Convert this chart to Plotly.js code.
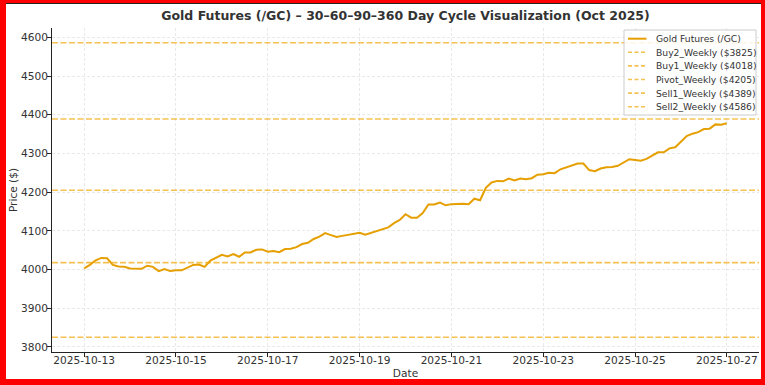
<!DOCTYPE html>
<html>
<head>
<meta charset="utf-8">
<script src="https://cdn.plot.ly/plotly-3.0.1.min.js"></script>
<style>
  html, body { margin: 0; padding: 0; background: #fff; }
  #wrap { position: relative; width: 765px; height: 385px; overflow: hidden; }
  #chart { position: absolute; left: 0; top: 0; width: 765px; height: 385px; }
  #frame { position: absolute; left: 0; top: 0; width: 765px; height: 385px; box-sizing: border-box;
           border-style: solid; border-color: #ff0000; border-width: 3px 4px 6px 6px; pointer-events: none; }
  #frameInner { position: absolute; left: 6px; top: 3px; width: 755px; height: 1px; background: #222; pointer-events: none; }
</style>
</head>
<body>
<div id="wrap">
  <div id="chart"></div>
  <div id="frame"></div>
  <div id="frameInner"></div>
</div>
<script>
// ---- Data ----
const startDate = '2025-10-13T00:00:00';
const stepHours = 3;

const goldPrices = [
  4003, 4012, 4024, 4030, 4029, 4012, 4008, 4007, 4003, 4003,
  4002, 4010, 4007, 3996, 4001, 3996, 3998, 3998, 4006, 4012,
  4013, 4007, 4023, 4031, 4038, 4034, 4040, 4033, 4044, 4044,
  4051, 4052, 4046, 4048, 4045, 4053, 4054, 4058, 4066, 4069,
  4079, 4085, 4094, 4089, 4084, 4087, 4090, 4092, 4095, 4090,
  4095, 4099, 4103, 4109, 4120, 4128, 4143, 4134, 4134, 4146,
  4168, 4168, 4173, 4166, 4169, 4170, 4170, 4169, 4183, 4179,
  4211, 4225, 4229, 4228, 4235, 4230, 4235, 4233, 4236, 4245,
  4246, 4250, 4249, 4259, 4264, 4268, 4274, 4274, 4257, 4254,
  4261, 4264, 4265, 4268, 4276, 4285, 4283, 4281, 4286, 4295,
  4303, 4303, 4313, 4316, 4331, 4345, 4351, 4355, 4363, 4364,
  4375, 4374, 4378
];

const levelNames  = ['Buy2_Weekly', 'Buy1_Weekly', 'Pivot_Weekly', 'Sell1_Weekly', 'Sell2_Weekly'];
const levelValues = [3825, 4018, 4205, 4389, 4586];

const seriesName = 'Gold Futures (/GC)';
const yTicks = [3800, 3900, 4000, 4100, 4200, 4300, 4400, 4500, 4600];
const xTickStart = '2025-10-13';

// ---- Build timestamps ----
function fmt(d) {
  const p = n => String(n).padStart(2, '0');
  return d.getFullYear() + '-' + p(d.getMonth() + 1) + '-' + p(d.getDate()) + ' ' + p(d.getHours()) + ':' + p(d.getMinutes());
}
const t0 = new Date(startDate);
const dates = goldPrices.map((_, i) => fmt(new Date(t0.getTime() + i * stepHours * 3600000)));

// ---- Style ----
const mainColor = '#E69F00';
const levelColor = 'rgba(240,165,0,0.68)';
const textColor = '#333333';
const font = 'DejaVu Sans, Verdana, sans-serif';
const xRange = ['2025-10-12 07:12', '2025-10-27 16:48'];

const traces = [];
traces.push({
  x: dates, y: goldPrices, type: 'scatter', mode: 'lines', name: seriesName,
  line: { color: mainColor, width: 2 }, showlegend: false, hoverinfo: 'skip'
});
levelNames.forEach((n, i) => {
  traces.push({
    x: xRange, y: [levelValues[i], levelValues[i]],
    type: 'scatter', mode: 'lines', name: n + ' ($' + levelValues[i] + ')',
    line: { color: levelColor, width: 1.6, dash: '6px,2.5px' }, showlegend: false, hoverinfo: 'skip'
  });
});

// ---- Manual legend (matplotlib-style compact legend) ----
const L = 52, R = 759, T = 28, B = 352;
const px = v => (v - L) / (R - L);
const py = v => (B - v) / (B - T);
const legendLabels = [seriesName].concat(levelNames.map((n, i) => n + ' ($' + levelValues[i] + ')'));
const rowY = [38.7, 52.3, 65.9, 79.5, 93.1, 106.7];
const shapes = [{
  type: 'rect', xref: 'paper', yref: 'paper', x0: px(624), x1: px(756), y0: py(115), y1: py(30),
  fillcolor: 'rgba(255,255,255,0.85)', line: { color: '#cccccc', width: 1 }, layer: 'above'
}];
const annotations = [];
legendLabels.forEach((lab, i) => {
  shapes.push({
    type: 'line', xref: 'paper', yref: 'paper', x0: px(628), x1: px(646.5), y0: py(rowY[i]), y1: py(rowY[i]),
    line: i === 0 ? { color: mainColor, width: 2 } : { color: levelColor, width: 1.6, dash: '4px,2.5px' },
    layer: 'above'
  });
  annotations.push({
    xref: 'paper', yref: 'paper', x: px(654), y: py(rowY[i]), xanchor: 'left', yanchor: 'middle',
    text: lab, showarrow: false, font: { family: font, size: 9.2, color: textColor }
  });
});

const layout = {
  width: 765, height: 385,
  margin: { l: L, r: 765 - R, t: T, b: 385 - B, pad: 0 },
  paper_bgcolor: '#ffffff', plot_bgcolor: '#ffffff',
  font: { family: font, size: 10.6, color: textColor },
  title: {
    text: '<b>Gold Futures (/GC) – 30–60–90–360 Day Cycle Visualization (Oct 2025)</b>',
    font: { family: font, size: 12.5, color: textColor },
    x: 0.5, xref: 'paper', xanchor: 'center', y: 1 - 16 / 385, yanchor: 'middle'
  },
  xaxis: {
    type: 'date', range: xRange,
    tick0: xTickStart, dtick: 2 * 86400000, tickformat: '%Y-%m-%d',
    showgrid: true, gridcolor: '#e3e3e3', griddash: '3px,2px', gridwidth: 0.8,
    showline: true, linecolor: '#222222', linewidth: 1, mirror: false,
    ticks: 'outside', ticklen: 4, tickwidth: 1, tickcolor: '#222222',
    ticklabelstandoff: -6,
    tickfont: { family: font, size: 10.6, color: textColor },
    zeroline: false,
    title: { text: 'Date', font: { family: font, size: 10.6, color: textColor }, standoff: 4 }
  },
  yaxis: {
    range: [3787, 4624], tickvals: yTicks, ticktext: yTicks.map(String),
    showgrid: true, gridcolor: '#e3e3e3', griddash: '3px,2px', gridwidth: 0.8,
    showline: true, linecolor: '#222222', linewidth: 1, mirror: false,
    ticks: 'outside', ticklen: 4, tickwidth: 1, tickcolor: '#222222',
    ticklabelstandoff: -3,
    tickfont: { family: font, size: 10.6, color: textColor },
    zeroline: false,
    title: { text: 'Price ($)', font: { family: font, size: 10.6, color: textColor }, standoff: 1 }
  },
  shapes: shapes,
  annotations: annotations,
  showlegend: false
};

Plotly.newPlot('chart', traces, layout, { staticPlot: true, displayModeBar: false });
</script>
</body>
</html>
